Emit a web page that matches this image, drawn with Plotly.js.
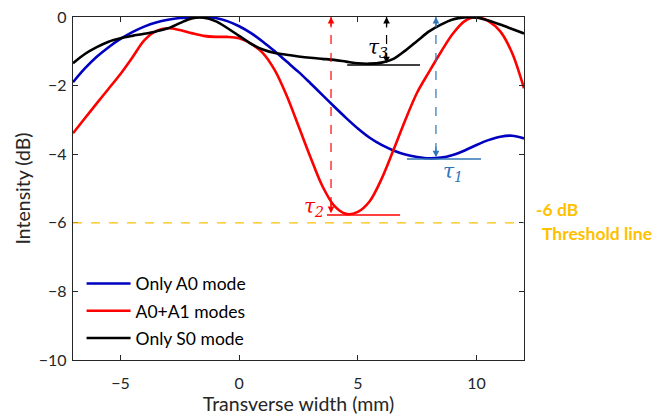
<!DOCTYPE html>
<html>
<head>
<meta charset="utf-8">
<script src="https://cdn.plot.ly/plotly-3.0.1.min.js"></script>
<style>
  html, body { margin: 0; padding: 0; background: #fff; }
  #chart { width: 654px; height: 419px; }
</style>
</head>
<body>
<div id="chart"></div>
<script>
// Transverse position (mm)
const widthMM = [-7, -6.5, -6, -5.5, -5, -4.5, -4, -3.5, -3, -2.5, -2, -1.5, -1, -0.5,
  0, 0.5, 1, 1.5, 2, 2.5, 3, 3.5, 4, 4.5, 5, 5.5, 6, 6.5, 7, 7.5, 8, 8.5, 9, 9.5,
  10, 10.5, 11, 11.5, 12];

// Normalised intensity (dB) for each excitation case
const onlyA0 = [-1.90, -1.50, -1.16, -0.88, -0.64, -0.44, -0.28, -0.16, -0.08, -0.03, -0.01, 0.00, -0.03, -0.12,
  -0.27, -0.47, -0.72, -1.00, -1.30, -1.60, -1.93, -2.27, -2.61, -2.94, -3.25, -3.52, -3.73, -3.89, -4.01, -4.08,
  -4.12, -4.10, -4.02, -3.89, -3.73, -3.59, -3.49, -3.46, -3.54];

const a0a1 = [-3.39, -2.95, -2.52, -2.09, -1.66, -1.18, -0.68, -0.41, -0.33, -0.38, -0.47, -0.55, -0.58, -0.58,
  -0.62, -0.78, -1.05, -1.55, -2.29, -3.18, -4.08, -4.92, -5.50, -5.74, -5.68, -5.37, -4.72, -3.88, -3.00, -2.20,
  -1.60, -1.02, -0.49, -0.12, 0.00, -0.12, -0.42, -1.05, -2.08];

const onlyS0 = [-1.35, -1.08, -0.88, -0.72, -0.62, -0.55, -0.49, -0.42, -0.33, -0.18, -0.04, -0.02, -0.12, -0.32,
  -0.55, -0.78, -0.95, -1.05, -1.10, -1.15, -1.19, -1.22, -1.25, -1.30, -1.35, -1.36, -1.33, -1.22, -0.98, -0.70,
  -0.42, -0.22, -0.07, -0.01, -0.02, -0.10, -0.22, -0.35, -0.48];

const seriesNames = ['Only A0 mode', 'A0+A1 modes', 'Only S0 mode'];

// Threshold level (dB)
const thresholdDB = -6;
const thresholdLabel = ['-6 dB', 'Threshold line'];

// Decay markers τ1, τ2, τ3: arrow position, arrow bottom level, reference-line span
const tauNames = ['τ<sub>1</sub>', 'τ<sub>2</sub>', 'τ<sub>3</sub>'];
const tauArrowX = [8.29, 3.87, 6.21];
const tauLevel = [-4.14, -5.77, -1.40];
const tauLineStart = [7.07, 3.70, 4.55];
const tauLineEnd = [10.19, 6.78, 7.62];
const tauLabelX = [9.00, 3.15, 5.85];
const tauLabelY = [-4.51, -5.54, -0.90];
const tauColors = ['#2E75B6', '#FF0000', '#000000'];

const FONT = 'Lato, "Open Sans", sans-serif';
const AXIS_GREY = '#262626';

const lineColors = ['#0000C0', '#FF0000', '#000000'];
const series = [onlyA0, a0a1, onlyS0];

const traces = series.map((ys, i) => ({
  x: widthMM,
  y: ys,
  type: 'scatter',
  mode: 'lines',
  name: seriesNames[i],
  legendgroup: 'g' + i,
  line: { color: lineColors[i], width: 2.6, shape: 'spline', smoothing: 0.9 }
}));

const shapes = [];
const annotations = [];

// -6 dB threshold line across the plot
shapes.push({
  type: 'line', xref: 'paper', yref: 'y', x0: 0, x1: 1, y0: thresholdDB, y1: thresholdDB,
  line: { color: '#FFC000', width: 1.3, dash: 'dash' }
});

tauNames.forEach((name, i) => {
  const c = tauColors[i];
  // horizontal reference line at the local minimum
  shapes.push({
    type: 'line', xref: 'x', yref: 'y',
    x0: tauLineStart[i], x1: tauLineEnd[i], y0: tauLevel[i], y1: tauLevel[i],
    line: { color: c, width: 1.5 }
  });
  // dashed vertical span from 0 dB down to the minimum
  shapes.push({
    type: 'line', xref: 'x', yref: 'y',
    x0: tauArrowX[i], x1: tauArrowX[i], y0: 0, y1: tauLevel[i],
    line: { color: c, width: 1.2, dash: 'dash' }
  });
  // arrowheads at both ends
  annotations.push({
    x: tauArrowX[i], y: 0, ax: tauArrowX[i], ay: -0.35, xref: 'x', yref: 'y', axref: 'x', ayref: 'y',
    text: '', showarrow: true, arrowhead: 2, arrowsize: 1.1, arrowwidth: 1.2, arrowcolor: c
  });
  annotations.push({
    x: tauArrowX[i], y: tauLevel[i] + 0.05, ax: tauArrowX[i], ay: tauLevel[i] + 0.4,
    xref: 'x', yref: 'y', axref: 'x', ayref: 'y',
    text: '', showarrow: true, arrowhead: 2, arrowsize: 1.1, arrowwidth: 1.2, arrowcolor: c
  });
  // label
  annotations.push({
    x: tauLabelX[i], y: tauLabelY[i], xref: 'x', yref: 'y', showarrow: false,
    text: '<i>' + name + '</i>',
    font: { family: '"DejaVu Serif", "Liberation Serif", serif', size: 20, color: c }
  });
});

// threshold caption to the right of the plot
annotations.push({
  x: 1.023, y: -5.6, xref: 'paper', yref: 'y', xanchor: 'left', yanchor: 'middle', showarrow: false,
  text: '<b>' + thresholdLabel[0] + '</b>',
  font: { family: FONT, size: 17.5, color: '#FFC000' }
});
annotations.push({
  x: 1.036, y: -6.3, xref: 'paper', yref: 'y', xanchor: 'left', yanchor: 'middle', showarrow: false,
  text: '<b>' + thresholdLabel[1] + '</b>',
  font: { family: FONT, size: 17.5, color: '#FFC000' }
});

const axisCommon = {
  showline: true, linecolor: AXIS_GREY, linewidth: 1.3, mirror: 'ticks',
  ticks: 'inside', ticklen: 5, tickwidth: 1, tickcolor: AXIS_GREY,
  showgrid: false, zeroline: false,
  tickfont: { family: FONT, size: 16, color: AXIS_GREY }
};

const layout = {
  width: 654, height: 419,
  margin: { l: 73, r: 130, t: 17, b: 59 },
  paper_bgcolor: '#ffffff', plot_bgcolor: '#ffffff',
  font: { family: FONT, color: AXIS_GREY },
  xaxis: Object.assign({}, axisCommon, {
    range: [-7, 12], tickmode: 'array', tickvals: [-5, 0, 5, 10],
    ticklabelstandoff: 8,
    title: { text: 'Transverse width (mm)', font: { family: FONT, size: 19.5, color: AXIS_GREY }, standoff: 3 }
  }),
  yaxis: Object.assign({}, axisCommon, {
    range: [-10, 0], tickmode: 'array', tickvals: [-10, -8, -6, -4, -2, 0],
    ticklabelstandoff: 2,
    title: { text: 'Intensity (dB)', font: { family: FONT, size: 19.5, color: AXIS_GREY }, standoff: 2 }
  }),
  showlegend: true,
  legend: {
    x: 0.019, y: 0.275, xanchor: 'left', yanchor: 'top',
    bgcolor: 'rgba(0,0,0,0)', borderwidth: 0,
    font: { family: FONT, size: 17.5, color: '#000' },
    itemwidth: 44,
    tracegroupgap: 1.5
  },
  shapes: shapes,
  annotations: annotations
};

Plotly.newPlot('chart', traces, layout, { staticPlot: true, displayModeBar: false });
</script>
</body>
</html>
